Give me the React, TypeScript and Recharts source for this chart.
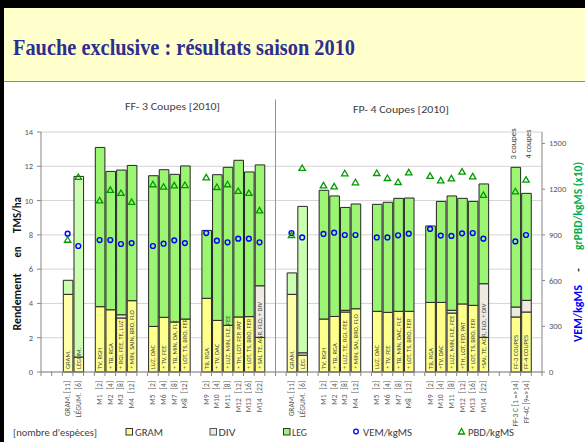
import React from 'react';
import {
  ComposedChart,
  Bar,
  Line,
  XAxis,
  YAxis,
  CartesianGrid,
  ReferenceLine,
  LabelList,
  Cell,
} from 'recharts';

// ---------- data ----------
const slotKeys: string[] = Array.from({ length: 47 }, (_, i) => 'c' + i);

const categoryLabels: string[] = [
  '', '', 'GRAM. [11]', 'LÉGUM.  [6]', '',
  'M1   [2]', 'M2   [4]', 'M3   [8]', 'M4   [12]', '',
  'M5   [2]', 'M6   [4]', 'M7   [8]', 'M8   [12]', '',
  'M9   [2]', 'M10   [4]', 'M11   [8]', 'M12   [12]', 'M13   [16]', 'M14   [22]', '', '',
  'GRAM. [11]', 'LÉGUM.  [6]', '',
  'M1   [2]', 'M2   [4]', 'M3   [8]', 'M4   [12]', '',
  'M5   [2]', 'M6   [4]', 'M7   [8]', 'M8   [12]', '',
  'M9   [2]', 'M10   [4]', 'M11   [8]', 'M12   [12]', 'M13   [16]', 'M14   [22]', '', '',
  'FF-3 C [1 =>14]', 'FF-4C [9=>14]', '',
];

const innerLabels: string[] = [
  '', '', 'GRAM.', 'LÉGUM.', '',
  'TV, RGH', '+ TB, RGA', '+ RGI, FEE, TE, LUZ', '+ MIN, SAIN, BRO, FLO', '',
  'LUZ, DAC', '+ TV, FEE', '+ TB, MIN, DA, FLE', '+ LOT, TS, BRO, FER', '',
  'TB, RGA', '+ TV, DAC', '+ LUZ, MIN, FLE, FEE', '+ TH, LOT, FEP, PAT', '+ LOT, TS, BRO, FER', '+ SAI, TE, AGR, FLO, + DIV', '', '',
  'GRAM.', 'LÉG', '',
  'TV, RGH', '+ TB, RGA', '+ LUZ, TE, RGI, FEE', '+ MIN, SAI, BRO, FLO', '',
  'LUZ, DAC', '+ TV, FEE', '+ TB, MIN, DAC, FLE', '+ LOT, TS, BRO, FER', '',
  'TB, RGA', '+TV, DAC', '+ LUZ, MIN, FLE, FEE', '+TH, LOT, FEP, PAT', '+ LOT, TS, BRO, FER', '+SAI, TE, AGR, FLO, + DIV', '', '',
  'FF-3 COUPES', 'FF-4 COUPES', '',
];

const gramValues: (number | null)[] = [
  null, null, 4.53, 0.87, null,
  3.81, 3.63, 3.15, 4.16, null,
  2.66, 3.19, 2.92, 3.09, null,
  4.30, 3.01, 2.72, 3.21, 3.23, 2.02, null, null,
  4.53, 0.98, null,
  3.09, 3.24, 3.50, 3.69, null,
  3.54, 3.48, 3.54, 3.54, null,
  4.06, 4.06, 3.44, 3.97, 3.89, 2.02, null, null,
  3.21, 3.50, null,
];

const divValues: (number | null)[] = [
  null, null, 0, 0, null,
  0, 0, 0.19, 0, null,
  0, 0, 0, 0, null,
  0, 0, 0, 0, 0, 3.01, null, null,
  0, 0.14, null,
  0, 0, 0.10, 0, null,
  0, 0, 0, 0, null,
  0, 0, 0.16, 0, 0, 3.13, null, null,
  0.58, 0.68, null,
];

const legValues: (number | null)[] = [
  null, null, 0.82, 10.54, null,
  9.29, 8.07, 8.44, 7.89, null,
  8.79, 8.61, 8.61, 8.93, null,
  3.96, 8.50, 9.22, 9.14, 8.44, 7.05, null, null,
  1.25, 8.54, null,
  7.51, 7.03, 6.00, 6.11, null,
  6.24, 6.42, 6.59, 6.61, null,
  4.46, 5.89, 6.67, 6.16, 6.06, 5.82, null, null,
  8.15, 6.24, null,
];

const vemValues: (number | null)[] = [
  null, null, 908, 827, null,
  866, 866, 840, 846, null,
  827, 842, 864, 846, null,
  912, 862, 851, 875, 875, 851, null, null,
  912, 883, null,
  906, 914, 899, 899, null,
  883, 883, 897, 908, null,
  939, 895, 893, 910, 912, 875, null, null,
  857, 899, null,
];

const pbdValues: (number | null)[] = [
  null, null, 868, 1280, null,
  1126, 1195, 1175, 1116, null,
  1232, 1216, 1225, 1227, null,
  1277, 1214, 1232, 1188, 1175, 1061, null, null,
  899, 1339, null,
  1225, 1218, 1304, 1245, null,
  1306, 1273, 1247, 1310, null,
  1287, 1258, 1271, 1315, 1284, 1162, null, null,
  1186, 1262, null,
];

const leftTicks = [0, 2, 4, 6, 8, 10, 12, 14];
const rightTicks = [0, 300, 600, 900, 1200, 1500];
const monocultureSlots = ['c2', 'c3', 'c23', 'c24'];
const separatorSlot = 'c21';

const data = slotKeys.map((key, i) => ({
  key,
  gram: gramValues[i],
  div: divValues[i],
  leg: legValues[i],
  vem: vemValues[i],
  pbd: pbdValues[i],
  inner: innerLabels[i],
}));

// ---------- styles ----------
const FONT = 'Carlito, Lato, "Liberation Sans", sans-serif';
const YELLOW = '#FFFF8C';
const YELLOW_PALE = '#FFFFA8';
const GREY = '#EDEAE2';
const GREEN = '#9BF572';
const GREEN_PALE = '#CCFDB0';
const OUTLINE = '#262626';
const AXIS = '#868686';
const TICKTXT = '#595959';

const XTick = (props: any) => {
  const { x, y, payload } = props;
  const idx = slotKeys.indexOf(payload.value);
  const off = payload.offset ?? 0;
  const axisY = y - 6;
  const label = categoryLabels[idx] || '';
  return (
    <g>
      <line x1={x - off} x2={x - off} y1={axisY} y2={axisY + 4} stroke={AXIS} />
      {idx === slotKeys.length - 1 && (
        <line x1={x + off} x2={x + off} y1={axisY} y2={axisY + 4} stroke={AXIS} />
      )}
      {label && (
        <text
          x={x}
          y={axisY + 9}
          transform={`rotate(-90, ${x}, ${axisY + 9})`}
          textAnchor="end"
          dominantBaseline="central"
          fontSize={7.5}
          fill={TICKTXT}
          style={{ whiteSpace: 'pre' }}
          fontFamily={FONT}
        >
          {label}
        </text>
      )}
    </g>
  );
};

const InnerLabel = (p: any) => {
  const vb = p.viewBox && p.viewBox.width != null ? p.viewBox : p;
  const { x, y, width, height } = vb;
  const value = p.value;
  if (!value || x == null) return null;
  const cx = x + width / 2;
  const by = y + height - 3;
  return (
    <text
      x={cx}
      y={by}
      transform={`rotate(-90, ${cx}, ${by})`}
      textAnchor="start"
      dominantBaseline="central"
      fontSize={6.5}
      fill="#404040"
      fontFamily={FONT}
    >
      {value}
    </text>
  );
};

const VemDot = (p: any) => {
  const { cx, cy, index } = p;
  if (cx == null || cy == null || Number.isNaN(cy)) return <g key={'v' + index} />;
  return <circle key={'v' + index} cx={cx} cy={cy} r={2.4} fill="none" stroke="#0000FF" strokeWidth={1.4} />;
};

const PbdDot = (p: any) => {
  const { cx, cy, index } = p;
  if (cx == null || cy == null || Number.isNaN(cy)) return <g key={'p' + index} />;
  return (
    <path
      key={'p' + index}
      d={`M${cx},${cy - 3} L${cx + 3.2},${cy + 2.5} L${cx - 3.2},${cy + 2.5} Z`}
      fill="none"
      stroke="#009A00"
      strokeWidth={1.3}
    />
  );
};

const rotText = (
  txt: string,
  x: number,
  y: number,
  opts: { size: number; fill: string; bold?: boolean; len?: number; family?: string }
) => (
  <text
    x={x}
    y={y}
    transform={`rotate(-90, ${x}, ${y})`}
    textAnchor="middle"
    dominantBaseline="central"
    fontSize={opts.size}
    fill={opts.fill}
    fontWeight={opts.bold ? 'bold' : 'normal'}
    fontFamily={opts.family || FONT}
    textLength={opts.len}
    lengthAdjust={opts.len ? 'spacingAndGlyphs' : undefined}
  >
    {txt}
  </text>
);

export default function App() {
  return (
    <div
      style={{
        position: 'absolute',
        left: 0,
        top: 0,
        width: 585,
        height: 442,
        background: '#FFFFFF',
        overflow: 'hidden',
      }}
    >
      {/* header */}
      <div style={{ position: 'absolute', left: 0, top: 0, width: 585, height: 8, background: '#000' }} />
      <div style={{ position: 'absolute', left: 0, top: 0, width: 4, height: 442, background: '#000' }} />
      <div
        style={{
          position: 'absolute',
          left: 4,
          top: 8,
          width: 581,
          height: 73,
          background: '#FFFFCC',
          borderBottom: '1px solid #8A8A8A',
        }}
      />

      <div style={{ position: 'absolute', left: 0, top: 0 }}>
        <ComposedChart
          width={585}
          height={442}
          data={data}
          margin={{ top: 132, right: 0, bottom: 0, left: 1 }}
          barCategoryGap={0}
          barGap={0}
          style={{ fontFamily: FONT }}
        >
          <CartesianGrid yAxisId="left" vertical={false} stroke="#D4D4D4" />
          <XAxis
            dataKey="key"
            interval={0}
            tick={<XTick />}
            tickLine={false}
            tickSize={4}
            tickMargin={2}
            height={70}
            axisLine={{ stroke: AXIS }}
          />
          <YAxis
            yAxisId="left"
            domain={[0, 14]}
            ticks={leftTicks}
            width={40}
            tickSize={4}
            tickMargin={4}
            tick={{ fontSize: 8.5, fill: TICKTXT, fontFamily: FONT }}
            axisLine={{ stroke: AXIS }}
            tickLine={{ stroke: AXIS }}
          />
          <YAxis
            yAxisId="right"
            orientation="right"
            domain={[0, 1575]}
            ticks={rightTicks}
            width={43}
            tickSize={3}
            tickMargin={4}
            tick={{ fontSize: 8.5, fill: TICKTXT, fontFamily: FONT }}
            axisLine={{ stroke: AXIS }}
            tickLine={{ stroke: AXIS }}
          />
          <Bar
            yAxisId="left"
            dataKey="gram"
            stackId="a"
            barSize={9.6}
            fill={YELLOW}
            stroke={OUTLINE}
            strokeWidth={1}
            isAnimationActive={false}
          >
            {data.map((d) => (
              <Cell key={d.key} fill={monocultureSlots.includes(d.key) ? YELLOW_PALE : YELLOW} />
            ))}
            <LabelList dataKey="inner" content={<InnerLabel />} />
          </Bar>
          <Bar
            yAxisId="left"
            dataKey="div"
            stackId="a"
            barSize={9.6}
            fill={GREY}
            stroke={OUTLINE}
            strokeWidth={1}
            isAnimationActive={false}
          />
          <Bar
            yAxisId="left"
            dataKey="leg"
            stackId="a"
            barSize={9.6}
            fill={GREEN}
            stroke={OUTLINE}
            strokeWidth={1}
            isAnimationActive={false}
          >
            {data.map((d) => (
              <Cell key={d.key} fill={monocultureSlots.includes(d.key) ? GREEN_PALE : GREEN} />
            ))}
          </Bar>
          <ReferenceLine
            yAxisId="left"
            segment={[
              { x: separatorSlot, y: 0 },
              { x: separatorSlot, y: 15.9 },
            ]}
            position="end"
            stroke="#6A9BE0"
            strokeWidth={1}
            ifOverflow="visible"
          />
          <Line
            yAxisId="right"
            dataKey="vem"
            stroke="none"
            dot={VemDot}
            activeDot={false}
            legendType="none"
            isAnimationActive={false}
          />
          <Line
            yAxisId="right"
            dataKey="pbd"
            stroke="none"
            dot={PbdDot}
            activeDot={false}
            legendType="none"
            isAnimationActive={false}
          />
        </ComposedChart>
      </div>

      {/* static text overlay */}
      <svg
        width={585}
        height={442}
        style={{ position: 'absolute', left: 0, top: 0, pointerEvents: 'none' }}
      >
        <text
          x={13}
          y={55}
          fontSize={23.5}
          fontWeight="bold"
          fontFamily='"Liberation Serif", "Times New Roman", serif'
          fill="#2D2E8F"
          textLength={342}
          lengthAdjust="spacingAndGlyphs"
        >
          Fauche exclusive : résultats saison 2010
        </text>

        <text x={172.5} y={109.5} textAnchor="middle" fontSize={10.5} fill="#404040" fontFamily={FONT} textLength={95} lengthAdjust="spacingAndGlyphs">
          FF- 3 Coupes [2010]
        </text>
        <text x={401} y={112.5} textAnchor="middle" fontSize={10.5} fill="#404040" fontFamily={FONT} textLength={96} lengthAdjust="spacingAndGlyphs">
          FP- 4 Coupes [2010]
        </text>

        {rotText('3 coupes', 513.5, 144, { size: 7, fill: '#404040', len: 31 })}
        {rotText('4 coupes', 528, 144, { size: 7, fill: '#404040', len: 29 })}

        {/* left axis title */}
        {rotText('Rendement', 17, 302, { size: 11.5, fill: '#111', bold: true, len: 57 })}
        {rotText('en', 17, 252, { size: 11.5, fill: '#111', bold: true, len: 11 })}
        {rotText('TMS/ha', 17, 215, { size: 11.5, fill: '#111', bold: true, len: 36 })}

        {/* right axis title */}
        {rotText('grPBD/kgMS (x10)', 578, 206, { size: 11.5, fill: '#00B050', bold: true, len: 88 })}
        {rotText('-', 578, 270, { size: 11.5, fill: '#111', bold: true })}
        {rotText('VEM/kgMS', 578, 313.5, { size: 11.5, fill: '#0000FF', bold: true, len: 57 })}

        {/* legend */}
        <g fontFamily={FONT} fill="#404040">
          <text x={13} y={436} fontSize={9.5} textLength={84} lengthAdjust="spacingAndGlyphs">
            [nombre d'espèces]
          </text>
          <rect x={126} y={428.5} width={6.5} height={6.5} fill={YELLOW} stroke="#333" strokeWidth={1} />
          <text x={135} y={436} fontSize={10.5} textLength={28} lengthAdjust="spacingAndGlyphs">GRAM</text>
          <rect x={210} y={428.5} width={6.5} height={6.5} fill={GREY} stroke="#555" strokeWidth={1} />
          <text x={218.5} y={436} fontSize={10.5} textLength={17} lengthAdjust="spacingAndGlyphs">DIV</text>
          <rect x={283.5} y={428.5} width={6.5} height={6.5} fill={GREEN} stroke="#333" strokeWidth={1} />
          <text x={292} y={436} fontSize={10.5} textLength={15} lengthAdjust="spacingAndGlyphs">LEG</text>
          <circle cx={356} cy={431.5} r={2.3} fill="none" stroke="#0000FF" strokeWidth={1.3} />
          <text x={363} y={436} fontSize={10.5} textLength={49} lengthAdjust="spacingAndGlyphs">VEM/kgMS</text>
          <path d="M461.5,428.5 L464.5,434 L458.5,434 Z" fill="none" stroke="#009A00" strokeWidth={1.3} />
          <text x={468} y={436} fontSize={10.5} textLength={46} lengthAdjust="spacingAndGlyphs">PBD/kgMS</text>
        </g>
      </svg>
    </div>
  );
}
